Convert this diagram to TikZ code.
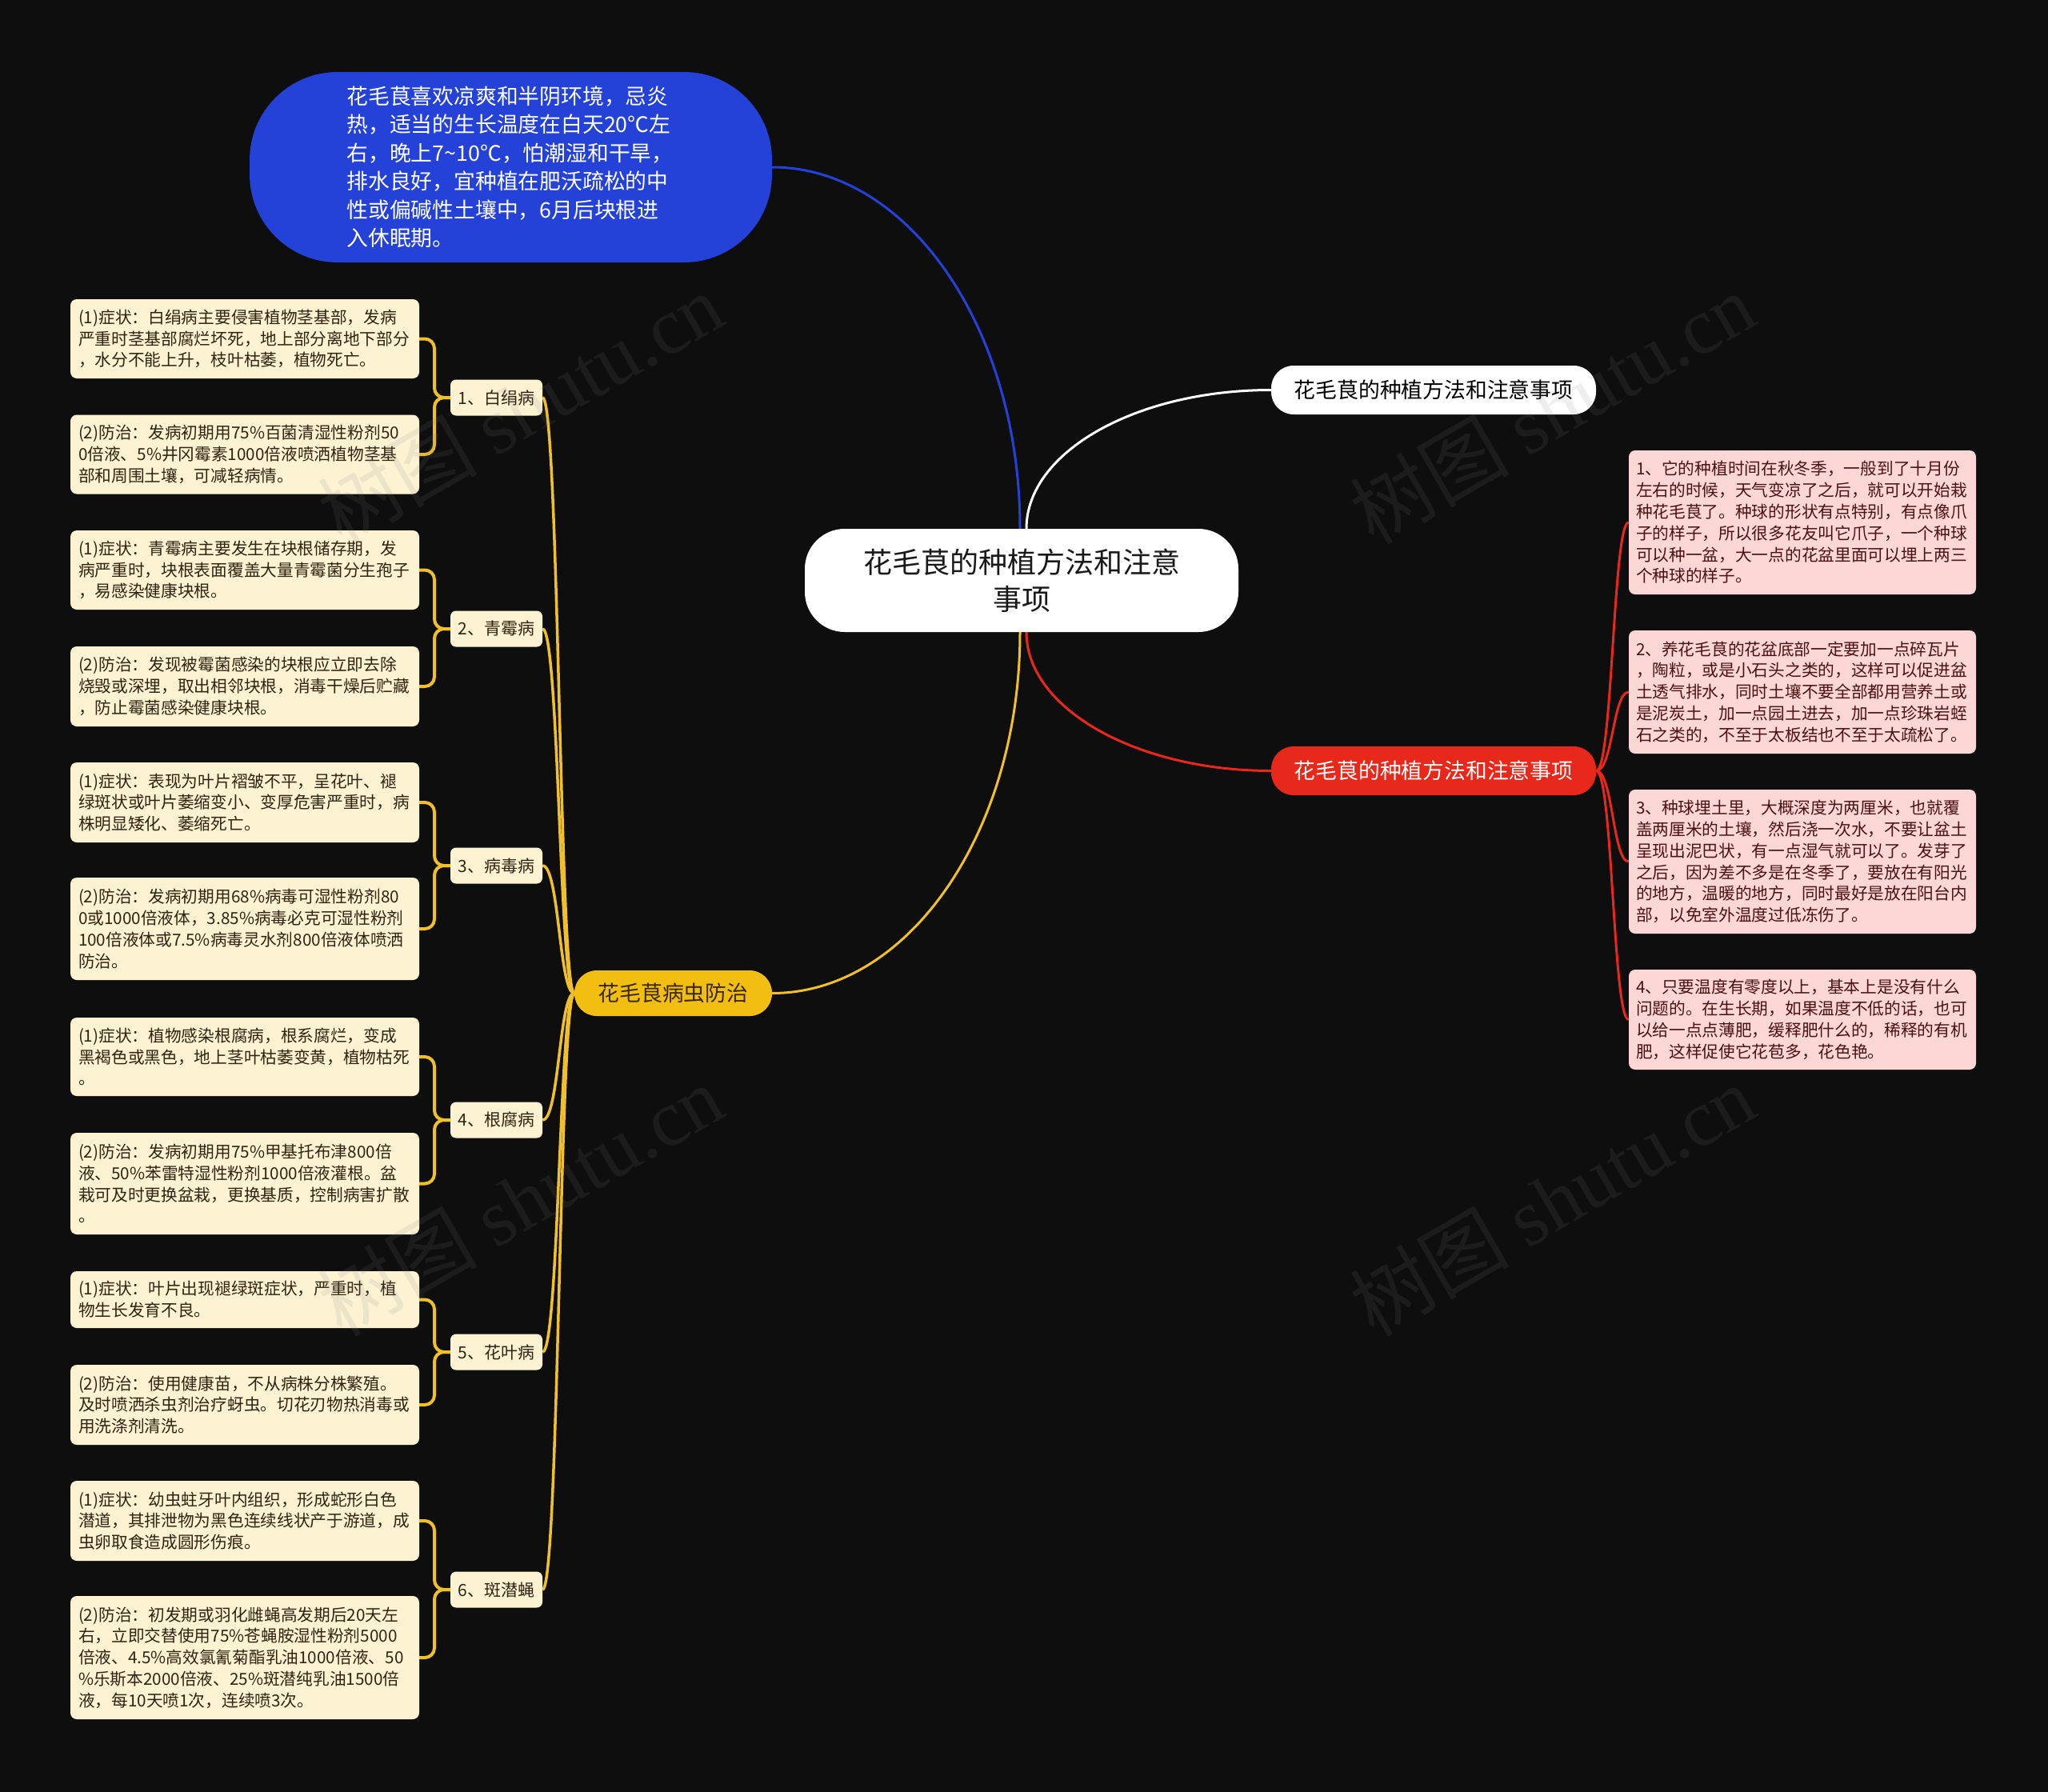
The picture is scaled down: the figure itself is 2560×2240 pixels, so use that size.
\documentclass[tikz,border=0pt]{standalone}
\usepackage{fontspec}
\setmainfont{Noto Sans CJK SC}
\newfontfamily\wmserif{Liberation Serif}
\usetikzlibrary{calc}
\definecolor{bgc}{HTML}{0E0E0E}
\definecolor{bluec}{HTML}{2441D8}
\definecolor{redc}{HTML}{E8281A}
\definecolor{yelc}{HTML}{F2BE12}
\definecolor{goldline}{HTML}{F0C02C}
\definecolor{cream}{HTML}{FDF3D3}
\definecolor{creamtext}{HTML}{2E2410}
\definecolor{pinkc}{HTML}{FDD7D5}
\definecolor{pinktext}{HTML}{4A1212}
\definecolor{yeltext}{HTML}{3A2800}
\pgfdeclarelayer{bglayer}
\pgfdeclarelayer{toplayer}
\pgfsetlayers{bglayer,main,toplayer}
\begin{document}
\begin{tikzpicture}[x=1pt,y=-1pt,
  leaf/.style={fill=cream, rounded corners=8pt, text width=416pt, inner xsep=10pt, inner ysep=0pt, align=left, text=creamtext, font=\fontsize{20.7pt}{26.8pt}\selectfont},
  pinkleaf/.style={fill=pinkc, rounded corners=8pt, text width=416pt, inner xsep=9pt, inner ysep=0pt, align=left, text=pinktext, font=\fontsize{20.7pt}{26.8pt}\selectfont},
  subnode/.style={fill=cream, rounded corners=7pt, minimum width=115pt, minimum height=45pt, inner sep=0pt, text=creamtext, font=\fontsize{21pt}{26pt}\selectfont},
  pill/.style={rounded corners=28pt, minimum width=406pt, minimum height=61pt, inner sep=0pt, font=\fontsize{26.8pt}{32pt}\selectfont},
  mainline/.style={line width=3pt},
  goldcon/.style={draw=goldline, line width=3.5pt},
  bracket/.style={draw=goldline, line width=4pt, rounded corners=12pt},
  redcon/.style={draw=redc, line width=3pt},
  wm/.style={text=gray, opacity=0.13, rotate=30, font=\fontsize{100pt}{110pt}\selectfont}
]
\begin{pgfonlayer}{bglayer}
\fill[bgc] (0,0) rectangle (2560,2240);
\end{pgfonlayer}
\useasboundingbox (0,0) rectangle (2560,2240);

% main nodes
\node[fill=white, rounded corners=50pt, minimum width=542pt, minimum height=129pt, align=center, text=black!90, font=\fontsize{36pt}{46pt}\selectfont] (root) at (1277,725.5) {花毛茛的种植方法和注意\\事项};

\node[fill=bluec, rounded corners=110pt, minimum width=653pt, minimum height=238pt, text width=410pt, align=left, text=white, font=\fontsize{26.8pt}{35.5pt}\selectfont] (blue) at (638.5,209) {花毛茛喜欢凉爽和半阴环境，忌炎\\热，适当的生长温度在白天20℃左\\右，晚上7\textasciitilde10℃，怕潮湿和干旱，\\排水良好，宜种植在肥沃疏松的中\\性或偏碱性土壤中，6月后块根进\\入休眠期。};

\node[pill, fill=white, text=black] (white) at (1792,487.5) {花毛茛的种植方法和注意事项};
\node[pill, fill=redc, text=white] (red) at (1792,963.5) {花毛茛的种植方法和注意事项};
\node[pill, fill=yelc, text=yeltext, minimum width=247pt, minimum height=57pt] (yellow) at (841.5,1241.5) {花毛茛病虫防治};

% pink leaves
\node[pinkleaf, minimum height=180pt] (p1) at (2253,653) {1、它的种植时间在秋冬季，一般到了十月份\\左右的时候，天气变凉了之后，就可以开始栽\\种花毛茛了。种球的形状有点特别，有点像爪\\子的样子，所以很多花友叫它爪子，一个种球\\可以种一盆，大一点的花盆里面可以埋上两三\\个种球的样子。};
\node[pinkleaf, minimum height=154pt] (p2) at (2253,865) {2、养花毛茛的花盆底部一定要加一点碎瓦片\\，陶粒，或是小石头之类的，这样可以促进盆\\土透气排水，同时土壤不要全部都用营养土或\\是泥炭土，加一点园土进去，加一点珍珠岩蛭\\石之类的，不至于太板结也不至于太疏松了。};
\node[pinkleaf, minimum height=180pt] (p3) at (2253,1077) {3、种球埋土里，大概深度为两厘米，也就覆\\盖两厘米的土壤，然后浇一次水，不要让盆土\\呈现出泥巴状，有一点湿气就可以了。发芽了\\之后，因为差不多是在冬季了，要放在有阳光\\的地方，温暖的地方，同时最好是放在阳台内\\部，以免室外温度过低冻伤了。};
\node[pinkleaf, minimum height=125pt] (p4) at (2253,1274.5) {4、只要温度有零度以上，基本上是没有什么\\问题的。在生长期，如果温度不低的话，也可\\以给一点点薄肥，缓释肥什么的，稀释的有机\\肥，这样促使它花苞多，花色艳。};

% sub nodes
\node[subnode] (s1) at (620.5,497) {1、白绢病};
\node[subnode] (s2) at (620.5,786) {2、青霉病};
\node[subnode] (s3) at (620.5,1082) {3、病毒病};
\node[subnode] (s4) at (620.5,1400) {4、根腐病};
\node[subnode] (s5) at (620.5,1690) {5、花叶病};
\node[subnode] (s6) at (620.5,1987) {6、斑潜蝇};

% left leaves
\node[leaf, minimum height=99pt] (l1a) at (306,423.5) {(1)症状：白绢病主要侵害植物茎基部，发病\\严重时茎基部腐烂坏死，地上部分离地下部分\\，水分不能上升，枝叶枯萎，植物死亡。};
\node[leaf, minimum height=99pt] (l1b) at (306,568) {(2)防治：发病初期用75\%百菌清湿性粉剂50\\0倍液、5\%井冈霉素1000倍液喷洒植物茎基\\部和周围土壤，可减轻病情。};
\node[leaf, minimum height=99pt] (l2a) at (306,712.5) {(1)症状：青霉病主要发生在块根储存期，发\\病严重时，块根表面覆盖大量青霉菌分生孢子\\，易感染健康块根。};
\node[leaf, minimum height=100pt] (l2b) at (306,858) {(2)防治：发现被霉菌感染的块根应立即去除\\烧毁或深埋，取出相邻块根，消毒干燥后贮藏\\，防止霉菌感染健康块根。};
\node[leaf, minimum height=100pt] (l3a) at (306,1003) {(1)症状：表现为叶片褶皱不平，呈花叶、褪\\绿斑状或叶片萎缩变小、变厚危害严重时，病\\株明显矮化、萎缩死亡。};
\node[leaf, minimum height=128pt] (l3b) at (306,1161) {(2)防治：发病初期用68\%病毒可湿性粉剂80\\0或1000倍液体，3.85\%病毒必克可湿性粉剂\\100倍液体或7.5\%病毒灵水剂800倍液体喷洒\\防治。};
\node[leaf, minimum height=98pt] (l4a) at (306,1321) {(1)症状：植物感染根腐病，根系腐烂，变成\\黑褐色或黑色，地上茎叶枯萎变黄，植物枯死\\。};
\node[leaf, minimum height=127pt] (l4b) at (306,1479.5) {(2)防治：发病初期用75\%甲基托布津800倍\\液、50\%苯雷特湿性粉剂1000倍液灌根。盆\\栽可及时更换盆栽，更换基质，控制病害扩散\\。};
\node[leaf, minimum height=71pt] (l5a) at (306,1624.5) {(1)症状：叶片出现褪绿斑症状，严重时，植\\物生长发育不良。};
\node[leaf, minimum height=100pt] (l5b) at (306,1756) {(2)防治：使用健康苗，不从病株分株繁殖。\\及时喷洒杀虫剂治疗蚜虫。切花刃物热消毒或\\用洗涤剂清洗。};
\node[leaf, minimum height=100pt] (l6a) at (306,1901) {(1)症状：幼虫蛀牙叶内组织，形成蛇形白色\\潜道，其排泄物为黑色连续线状产于游道，成\\虫卵取食造成圆形伤痕。};
\node[leaf, minimum height=154pt] (l6b) at (306,2072) {(2)防治：初发期或羽化雌蝇高发期后20天左\\右，立即交替使用75\%苍蝇胺湿性粉剂5000\\倍液、4.5\%高效氯氰菊酯乳油1000倍液、50\\\%乐斯本2000倍液、25\%斑潜纯乳油1500倍\\液，每10天喷1次，连续喷3次。};

% connectors
\begin{pgfonlayer}{bglayer}
\draw[mainline, draw=bluec] ($(root.north)+(-2,0)$) .. controls (1275,411.5) and (1136,209) .. (blue.east);
\draw[mainline, draw=white] ($(root.north)+(6,0)$) .. controls (1283,565) and (1420,487.5) .. (white.west);
\draw[mainline, draw=redc] ($(root.south)+(6,0)$) .. controls (1283,886) and (1421,963.5) .. (red.west);
\draw[mainline, draw=goldline] ($(root.south)+(-2,0)$) .. controls (1275,1039) and (1136,1241.5) .. (yellow.east);

\foreach \s in {s1,s2,s3,s4,s5,s6}{
  \draw[goldcon] (yellow.west) .. controls (699,1241.5) and (699,0 |- \s.east) .. (\s.east);
}
\foreach \s/\a/\b in {s1/l1a/l1b, s2/l2a/l2b, s3/l3a/l3b, s4/l4a/l4b, s5/l5a/l5b, s6/l6a/l6b}{
  \draw[bracket] (\s.west) -- (543,0 |- \s.west) |- (\a.east);
  \draw[bracket] (\s.west) -- (543,0 |- \s.west) |- (\b.east);
}
\foreach \p in {p1,p2,p3,p4}{
  \draw[redcon] (red.east) .. controls (2016,963.5) and (2016,0 |- \p.west) .. (\p.west);
}
\end{pgfonlayer}

% watermarks
\begin{pgfonlayer}{toplayer}
\node[wm] (wm1) at (650,510) {树图 {\wmserif shutu.cn}};
\node[wm] (wm2) at (1940,510) {树图 {\wmserif shutu.cn}};
\node[wm] (wm3) at (650,1500) {树图 {\wmserif shutu.cn}};
\node[wm] (wm4) at (1940,1500) {树图 {\wmserif shutu.cn}};
\end{pgfonlayer}
\end{tikzpicture}
\end{document}
